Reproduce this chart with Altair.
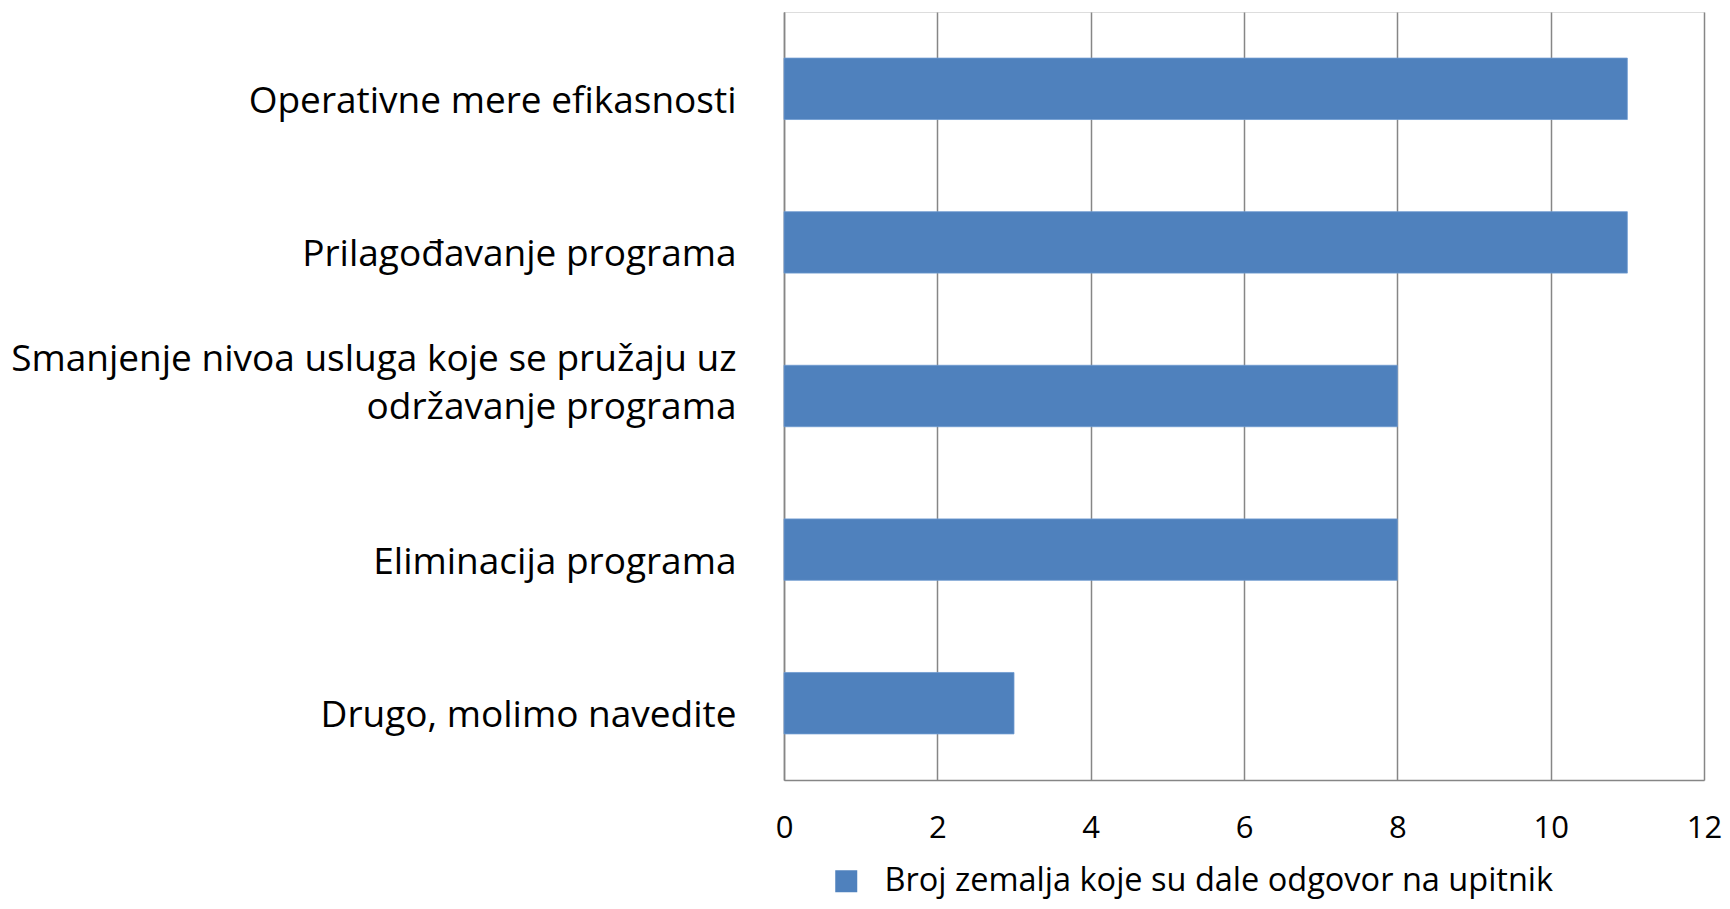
import altair as alt
import pandas as pd

categories = [
    "Operativne mere efikasnosti",
    "Prilagođavanje programa",
    "Smanjenje nivoa usluga koje se pružaju uz|održavanje programa",
    "Eliminacija programa",
    "Drugo, molimo navedite",
]
values = [11, 11, 8, 8, 3]
series_name = "Broj zemalja koje su dale odgovor na upitnik"
x_ticks = [0, 2, 4, 6, 8, 10, 12]

df = pd.DataFrame({"kategorija": categories, "broj": values, "serija": series_name})

FONT = "Open Sans"
GRID = "#868686"

chart = (
    alt.Chart(df)
    .mark_bar(color="#4F81BD", stroke="#6F9AD0", strokeWidth=0.8)
    .encode(
        x=alt.X(
            "broj:Q",
            scale=alt.Scale(domain=[0, 12], nice=False),
            axis=alt.Axis(
                values=x_ticks,
                title=None,
                grid=True,
                gridColor=GRID,
                gridWidth=1.5,
                domain=True,
                domainColor=GRID,
                domainWidth=1.5,
                ticks=False,
                labelPadding=33,
                labelFontSize=31,
                labelFont=FONT,
                labelColor="#000000",
                labelFlush=False,
            ),
        ),
        y=alt.Y(
            "kategorija:N",
            sort=categories,
            scale=alt.Scale(paddingInner=0.6, paddingOuter=0.3),
            axis=alt.Axis(
                title=None,
                domain=True,
                domainColor=GRID,
                domainWidth=1.5,
                ticks=False,
                grid=False,
                labelPadding=48,
                labelFontSize=37,
                labelFont=FONT,
                labelColor="#000000",
                labelLimit=0,
                labelLineHeight=48,
                labelOffset={
                    "condition": {"test": "indexof(datum.value, '|') >= 0", "value": -36},
                    "value": 13,
                },
                labelExpr="split(datum.label, '|')",
            ),
        ),
        color=alt.Color(
            "serija:N",
            scale=alt.Scale(range=["#4F81BD"]),
            legend=alt.Legend(
                title=None,
                orient="none",
                legendX=46,
                legendY=853,
                padding=0,
                symbolType="square",
                symbolSize=484,
                symbolStrokeWidth=0,
                labelFontSize=32.5,
                labelFont=FONT,
                labelColor="#000000",
                labelOffset=22,
                labelLimit=0,
            ),
        ),
    )
    .properties(
        width=920,
        height=768,
        autosize=alt.AutoSizeParams(type="none"),
        padding={"left": 776, "top": 4, "right": 18, "bottom": 121},
    )
    .configure_view(stroke=None)
    .configure(background="#ffffff")
)

chart.save("out.html", embed_options={"renderer": "svg", "actions": False})
